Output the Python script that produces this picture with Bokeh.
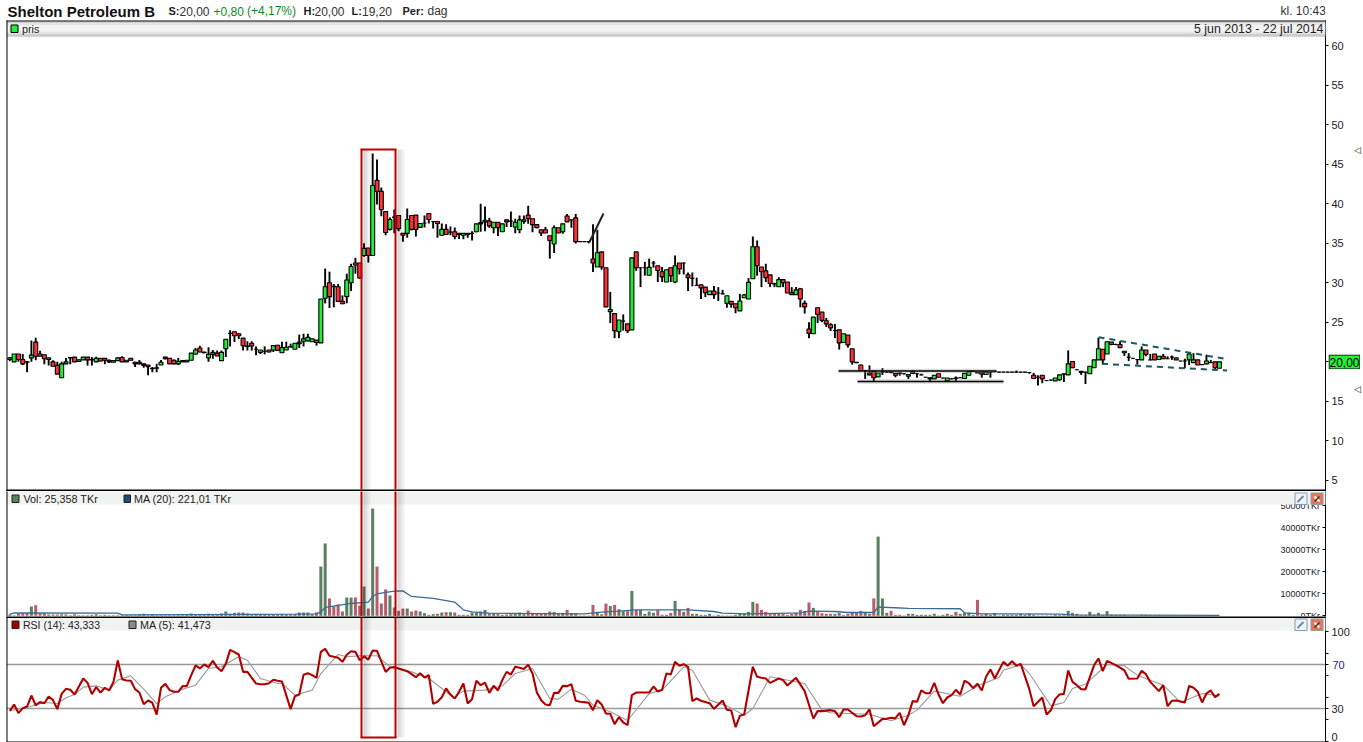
from bokeh.plotting import figure
from bokeh.layouts import column
from bokeh.models import Range1d, FixedTicker
from bokeh.core.properties import value
from bokeh.embed import file_html
from bokeh.resources import INLINE

opens = [20.3,20.0,21.0,20.3,20.0,20.5,22.5,21.0,20.9,20.3,
 20.0,19.55,18.0,19.75,20.55,20.6,20.05,20.25,20.6,20.3,
 20.0,20.45,20.45,20.2,19.95,20.15,20.55,20.0,20.45,19.95,
 19.95,19.75,19.6,19.2,19.25,19.6,20.6,20.45,20.2,19.75,
 20.0,20.0,20.2,21.0,21.75,21.2,20.5,20.95,21.1,20.15,
 21.65,23.6,23.8,23.55,23.0,22.0,22.35,21.6,21.2,21.35,
 21.5,21.5,22.1,21.15,21.5,21.95,21.6,22.3,22.6,22.65,
 22.55,22.75,22.4,28.05,30.0,29.55,29.5,27.65,28.25,30.0,
 32.5,32.5,33.45,34.4,33.45,42.95,41.55,39.0,36.75,38.3,
 38.5,36.25,36.25,38.5,38.55,37.0,37.55,38.75,37.75,37.75,
 36.0,36.75,36.4,36.45,36.1,36.0,36.25,36.25,36.45,37.45,
 37.7,37.8,36.95,37.65,36.45,37.95,37.8,37.05,36.7,37.75,
 38.55,38.1,37.35,36.7,36.7,35.95,34.9,36.95,36.45,38.45,
 37.95,38.2,35.2,35.2,35.2,33.0,32.0,33.9,31.9,26.35,
 26.1,23.8,25.15,24.8,24.05,33.9,31.9,31.9,30.95,32.5,
 32.15,31.4,30.1,31.9,30.1,32.5,32.5,31.0,30.55,29.65,
 29.75,29.45,28.5,28.95,28.7,28.6,27.4,27.65,27.35,26.45,
 28.1,27.95,30.5,34.55,32.0,31.5,31.0,29.9,29.5,30.4,
 30.1,28.75,28.5,29.25,27.4,24.15,23.55,26.85,26.3,25.2,
 24.7,23.95,24.05,22.45,23.4,21.65,19.95,19.6,18.9,18.6,
 18.8,18.1,18.7,18.7,18.7,18.55,18.6,18.5,18.2,18.55,
 18.5,18.35,18.05,18.0,17.85,18.5,17.95,17.6,17.85,17.95,
 18.0,17.9,18.3,18.8,18.65,18.7,18.4,18.65,18.75,18.7,
 18.7,18.7,18.7,18.7,18.7,18.7,18.65,18.3,18.05,18.3,
 17.65,17.7,17.6,17.75,18.5,18.35,20.05,19.0,18.8,18.7,
 18.5,19.25,20.25,21.6,21.0,22.5,22.2,22.2,21.15,20.6,
 20.45,20.3,20.25,21.5,20.25,21.0,20.3,20.7,20.4,20.6,
 20.25,20.1,20.1,20.25,19.9,20.25,19.65,19.75,19.9,20.0,19.2]

closes = [20.5,21.0,20.3,19.75,19.95,20.85,20.7,20.7,20.4,20.5,
 19.45,18.45,19.75,20.0,20.5,20.0,20.25,20.6,20.25,20.25,
 20.45,20.1,20.2,20.0,20.15,20.5,20.0,20.2,20.2,19.75,
 19.75,19.55,19.4,19.15,19.2,19.95,20.4,19.75,19.75,20.05,
 20.15,20.2,21.1,21.5,21.25,21.15,20.95,21.2,20.75,21.2,
 22.85,23.6,23.3,23.3,22.05,21.95,22.0,21.6,21.5,21.35,
 21.25,22.05,21.45,21.8,21.85,21.9,22.35,22.5,22.9,23.1,
 22.9,22.45,27.95,29.5,28.25,29.5,27.65,27.35,30.35,32.05,
 32.25,30.6,34.35,33.45,42.3,41.55,39.25,36.35,38.0,38.25,
 36.85,36.0,38.0,36.75,36.75,37.5,37.55,38.0,37.75,37.5,
 36.75,36.1,36.4,35.85,36.25,36.25,36.1,36.25,37.45,37.6,
 37.9,37.2,37.65,36.95,37.45,37.7,37.8,37.65,37.95,37.95,
 38.1,37.35,36.95,36.3,36.3,35.35,36.95,36.3,37.45,37.7,
 37.95,35.2,35.2,35.2,35.2,32.5,33.8,32.0,26.95,26.6,
 23.95,25.3,25.15,23.95,33.15,31.9,31.9,31.9,31.95,32.5,
 31.55,30.75,31.65,30.9,32.15,31.75,32.5,30.65,30.55,29.65,
 29.35,28.75,28.95,28.5,28.7,28.6,28.35,27.3,26.85,27.7,
 28.45,30.05,34.55,32.15,31.4,30.65,29.9,29.85,30.4,30.0,
 28.7,28.5,29.1,27.95,26.95,23.6,25.65,26.0,25.25,24.8,
 24.3,23.95,22.4,23.55,22.15,20.0,19.9,18.9,18.9,18.35,
 18.0,18.6,18.7,18.7,18.65,18.3,18.55,18.5,18.4,18.75,
 18.5,18.35,18.05,17.85,18.3,18.05,17.95,17.95,17.85,17.9,
 18.0,18.55,18.75,18.8,18.6,18.45,18.7,18.65,18.75,18.7,
 18.7,18.7,18.7,18.7,18.7,18.7,18.65,17.9,18.05,17.85,
 17.65,17.7,17.95,18.35,18.45,19.75,19.25,19.0,18.65,18.7,
 19.45,20.25,21.65,20.25,22.55,22.2,22.2,21.8,21.35,20.6,
 20.45,20.3,21.5,20.95,20.25,20.25,20.7,20.4,20.4,20.6,
 20.5,20.1,20.1,21.0,20.25,19.6,19.65,20.1,19.9,19.25,20.0]

highs = [20.6,21.0,21.0,21.0,20.1,22.7,23.05,21.4,20.9,20.5,
 20.2,20.0,20.0,20.5,20.6,20.6,20.3,20.6,20.6,20.6,
 20.65,20.5,20.5,20.3,20.2,20.55,20.7,20.2,20.5,20.0,
 20.25,19.8,19.6,19.35,19.75,20.25,20.65,20.5,20.3,20.5,
 20.2,20.25,21.1,21.75,22.05,21.3,21.85,21.5,21.45,21.45,
 22.85,24.0,23.8,23.6,23.0,22.6,22.6,21.95,21.5,21.95,
 21.5,22.05,22.15,22.55,22.55,22.3,22.35,23.45,23.55,23.55,
 22.9,22.75,27.95,31.8,31.4,29.85,29.85,28.4,31.15,32.4,
 33.15,32.5,35.0,34.4,46.35,45.6,42.05,39.0,38.25,39.25,
 38.5,36.3,39.4,38.5,38.55,37.5,38.5,38.8,37.8,37.8,
 37.5,37.4,37.1,37.0,36.3,36.3,36.3,36.5,37.45,40.0,
 39.65,38.2,37.65,37.65,37.45,38.0,39.0,38.1,38.5,38.5,
 39.75,38.1,37.4,36.75,37.05,35.95,37.25,36.95,37.45,38.7,
 38.0,38.7,35.25,35.25,35.25,37.4,36.7,33.9,31.9,28.85,
 26.1,25.3,26.0,24.8,33.15,33.9,31.95,32.65,33.05,32.75,
 32.15,32.0,31.65,31.9,33.45,32.5,32.55,31.3,31.3,30.65,
 29.75,29.45,28.95,29.6,29.45,29.1,28.35,27.65,27.35,28.6,
 28.6,30.6,35.85,35.35,32.0,32.4,31.0,30.0,30.7,30.4,
 30.1,29.45,29.45,29.35,27.75,25.0,25.65,26.85,26.3,25.55,
 24.9,24.8,24.05,23.55,23.4,21.65,20.0,19.65,18.95,19.55,
 18.8,18.6,19.2,18.85,18.8,18.6,18.65,18.55,18.45,18.9,
 18.6,18.5,18.1,18.0,18.35,18.5,18.0,17.95,17.9,18.15,
 18.05,18.55,18.8,18.85,18.7,18.75,18.75,18.7,18.8,18.75,
 18.75,18.75,18.75,18.9,18.75,18.75,18.7,18.6,18.3,18.3,
 17.7,17.75,17.95,18.35,18.5,21.45,20.05,19.05,18.85,18.75,
 19.45,20.25,23.05,21.6,22.55,22.5,22.3,22.6,21.35,21.1,
 20.5,20.35,21.95,21.5,21.0,21.0,20.75,21.0,20.7,20.8,
 20.5,20.15,20.4,21.25,21.1,20.25,19.7,20.9,20.25,20.0,20.0]

lows = [20.1,20.0,20.0,19.6,18.7,20.0,20.2,20.7,19.7,19.55,
 19.4,18.45,18.0,19.75,19.7,20.0,20.0,20.25,19.55,19.55,
 20.0,20.05,19.7,19.85,19.95,20.1,20.0,20.0,20.2,19.35,
 19.7,19.25,18.3,18.7,18.7,19.6,20.3,19.75,19.7,19.6,
 20.0,20.0,20.2,20.9,21.2,21.1,20.0,20.4,20.75,20.15,
 20.6,21.95,22.5,22.9,21.45,21.45,21.45,20.85,21.0,20.95,
 21.2,21.25,21.45,21.15,21.5,21.8,21.6,21.75,21.95,22.6,
 22.55,22.05,22.4,27.4,26.8,26.9,27.65,27.3,27.4,28.95,
 31.15,30.5,33.3,32.55,33.45,39.9,38.4,36.0,36.6,36.25,
 36.5,35.2,35.7,36.6,35.85,37.0,37.0,37.5,36.85,35.7,
 36.0,36.1,36.0,35.5,35.55,35.5,35.7,35.35,36.4,36.45,
 36.5,36.95,36.25,35.9,36.45,37.05,37.05,36.25,36.25,37.45,
 37.45,36.4,36.9,35.9,36.3,33.05,33.75,36.3,36.2,37.7,
 36.95,34.95,35.2,35.2,35.0,31.35,32.0,31.65,26.95,24.9,
 23.0,23.0,23.95,23.65,24.05,31.5,29.45,30.9,30.95,31.9,
 30.1,30.1,30.1,30.1,29.95,31.05,31.05,28.95,29.55,29.6,
 27.95,28.2,28.5,27.95,27.7,28.55,26.85,26.85,26.15,26.45,
 28.1,27.95,30.5,30.9,29.45,30.1,29.45,29.45,29.5,29.45,
 28.7,28.5,28.5,26.9,26.1,23.0,23.55,24.9,25.0,24.4,
 23.9,23.0,21.55,22.45,21.8,19.65,19.85,18.9,17.85,18.3,
 17.45,18.1,18.35,18.6,18.55,18.05,18.25,18.4,17.85,18.5,
 18.0,18.3,18.0,17.55,17.85,18.05,17.9,17.6,17.8,17.5,
 17.95,17.9,18.3,18.75,18.6,18.0,18.4,18.0,18.7,18.65,
 18.65,18.65,18.65,18.65,18.65,18.65,18.5,17.9,17.0,17.3,
 17.55,17.6,17.6,17.6,17.45,18.35,19.2,18.95,18.35,17.2,
 18.5,19.25,20.25,19.65,21.0,22.1,22.1,21.8,20.75,20.1,
 20.4,19.65,20.25,20.7,20.2,20.25,20.3,20.35,20.35,20.25,
 20.25,20.05,19.2,19.6,19.9,19.6,19.6,19.7,19.85,19.0,19.2]

volume = [600,300,1200,1200,1200,4200,4850,1200,1200,600,
 600,600,750,600,300,750,300,300,300,450,
 750,300,450,300,300,300,300,300,300,300,
 600,900,300,450,300,300,300,300,300,300,
 300,450,1050,450,450,450,900,450,450,1050,
 1950,900,1350,1500,1500,1050,600,900,600,600,
 600,600,600,900,600,600,600,1500,1500,1500,
 750,1500,22400,32900,7900,4250,5150,1950,8300,8300,
 8300,4700,13300,3300,48800,22400,5600,12000,9250,3800,
 2250,3300,3300,1950,2400,1950,1200,450,750,900,
 1500,1650,1650,1500,450,450,450,1500,1500,1950,
 2700,1200,1200,900,450,600,750,900,1500,750,
 2400,1350,1050,1050,1200,1950,1800,1050,1350,2700,
 1200,1200,150,150,150,4950,1800,750,5550,4500,
 4950,3000,2100,2100,11300,2700,2700,900,1950,1350,
 2550,450,450,1350,6800,2700,1800,3600,900,900,
 450,450,900,150,450,150,150,150,450,900,
 900,1800,6350,5600,2700,1800,900,900,900,900,
 450,900,1350,2700,2250,6050,3600,1800,1200,900,
 900,900,1350,300,900,1800,1350,2250,1800,900,
 7900,36000,7900,1350,2250,450,450,150,900,900,
 450,450,450,450,900,150,450,900,450,1800,
 900,1350,1350,450,7250,450,900,450,1350,150,
 450,450,450,450,750,450,900,450,150,150,
 150,150,450,300,300,2250,1350,900,300,300,
 1800,450,1350,450,2100,600,450,450,450,150,
 150,150,450,450,300,300,300,300,150,150,
 150,150,150,150,150,150,150,150,300,150,25]

vol_ma_i = [0,1,25,26,66,71,72,73,79,83,84,85,87,89,91,93,98,103,104,105,107,111,133,137,141,145,154,157,163,165,171,183,185,191,194,200,201,205,208,220,221,225,243,246,280]
vol_ma_v = [600,1350,1200,450,750,900,1650,3800,5600,6200,8800,10000,10600,11200,11350,8800,7900,6200,4550,2700,1800,1200,900,1650,2100,2700,2700,2700,1950,1200,900,1350,2100,1950,1500,1500,3950,3650,3350,3200,1350,900,750,450,221]

rsi_i = [*range(0,16),*range(17,56),*range(57,64),*range(65,86),*range(87,91),92,*range(94,105),*range(105,146),
 *range(148,161),162,163,*range(165,171),*range(172,177),*range(178,181),182,184,*range(186,189),*range(190,195),
 *range(196,201),*range(202,209),*range(209,229),*range(230,235),236,237,*range(239,250),*range(251,255),256,258,259,
 *range(261,265),*range(266,271),*range(272,281)]
rsi_v = [27.9,33.6,25.8,30.3,31.8,41.8,33.0,35.8,34.8,40.9,37.6,29.4,43.3,47.9,47.0,42.7,
 57.3,53.3,43.0,49.4,44.5,48.8,46.4,54.2,73.6,56.7,55.5,55.2,47.6,44.5,33.9,37.3,35.2,24.5,48.8,52.4,46.7,45.2,45.2,50.3,50.6,60.3,69.1,66.4,70,67.6,73.3,67.3,63.9,70.6,83.3,81.2,79.1,63.3,63.3,
 52.7,52.1,52.1,53,56.1,55.2,54.5,
 29.4,41.2,42.7,60.6,62.1,60.3,57.9,81.5,84.2,77.9,77,76.1,72.4,78.8,82.1,81.5,73.9,77.3,74.5,82.7,82.4,
 63.3,67,67.6,66.4,
 63.9,
 58.5,62.1,58.2,60.3,34.2,36.1,40.3,48.2,42.7,39.1,45.2,
 52.7,34.5,38.5,55.2,51.2,53.6,44.2,50.6,46.4,55.8,63.3,60.9,67.9,67,65.8,69.7,61.8,44.5,37.6,33.6,33.0,44.2,44.2,50.6,50.3,52.1,37,36.1,35.8,35.2,28.5,37.6,33.6,25.5,25.2,15.8,22.1,17.3,14.8,42.1,44.5,
 44.5,50,45.5,47,61.8,60.9,72.4,68.8,70.3,67.9,36.7,39.1,37,
 34.8,29.7,
 37.3,28.8,28.2,13,23.3,24.5,
 67.9,58.8,57.9,57.3,53.3,
 57.3,55.8,50.9,
 57.9,45.8,
 20.9,27.6,27.6,
 28.5,27.6,22.1,29.1,29.1,
 23,22.7,23.9,29.1,13.9,
 20.6,20.6,21.5,21.2,26.1,14.8,23.9,
 36.7,36.1,46.4,43.9,43.9,53.3,42.7,34.8,40,42.1,47,42.7,55.2,53,48.5,52.4,46.4,59.1,65.5,57.3,
 72.4,68.8,73,68.8,70.6,
 47.6,32.1,
 40,24.5,28.5,38.5,42.7,43.3,64.5,54.2,51.2,47.6,47.3,
 69.4,75.5,63.9,73.3,
 69.4,64.8,57,
 57.3,64.2,61.2,54.2,
 45.8,51.2,32.1,37,37.3,
 35.5,50.6,48.8,45.2,35.5,43.6,46.4,40.3,43.3]

rsi_ma_i = [0,4,8,11,13,15,17,20,23,25,28,31,34,36,40,43,46,49,53,55,58,62,63,66,70,72,76,78,81,85,88,93,97,103,104,
 105,110,114,117,121,125,127,130,133,135,139,143,148,151,156,158,162,166,170,172,176,184,188,190,194,199,204,208,
 210,214,220,224,229,230,234,236,241,244,246,249,254,258,261,267,271,276,280]
rsi_ma_v = [27.9,30.9,35.5,34.5,39.7,42.7,49.4,50.6,46.7,55.8,59.7,47.6,34.5,40.6,47.6,51.2,66.4,67.9,77,73.9,57.3,52.7,52.7,42.1,46.7,61.8,79.1,77,77.9,77.9,67.9,63.3,57.3,39.1,43.6,
 45.8,46.7,50.6,61.8,66.4,39.1,38.5,47.6,42.1,33,27,19.1,43.6,46.7,67.9,64.8,37.6,32.4,23.9,30,58.8,52.7,28.5,26.1,25.5,24.8,18.8,23.9,
 28.5,45.8,41.2,50.6,58.2,64.8,70,61.8,32.4,35.5,48.2,52.1,70,68.8,60.3,51.2,35.5,43.6,41.473]

price_ticks = [5,10,15,20,25,30,35,40,45,50,55,60]
vol_ticks = [0,10000,20000,30000,40000,50000]
vol_labels = ["0TKr","10000TKr","20000TKr","30000TKr","40000TKr","50000TKr"]
rsi_ticks = [0,30,70,100]
rsi_minor = [20,40,60,80]

FONT = value("Liberation Sans")
GREEN, RED = "#22ee38", "#ff3035"
VGREEN, VRED = "#5b7f5f", "#b65c6b"
X0, X1 = 6, 1325
xr = ((X0 - 9.3) / 4.32, (X1 - 9.3) / 4.32)
idx = list(range(len(closes)))
up = [c >= o for o, c in zip(opens, closes)]


def pane(h, y_top, y_bot, vtop, vbot):
    p = figure(width=1363, height=h, output_backend="svg", toolbar_location=None,
               x_range=Range1d(*xr), y_range=Range1d(vbot, vtop),
               x_axis_location=None, y_axis_location="right",
               min_border_left=X0, min_border_right=1363 - X1, min_border_top=0, min_border_bottom=0,
               outline_line_color=None, background_fill_color="white", border_fill_color="white")
    p.grid.visible = False
    p.extra_x_ranges["px"] = Range1d(X0, X1)
    p.extra_y_ranges["px"] = Range1d(y_bot, y_top)
    a = p.yaxis[0]
    a.axis_line_color = "black"
    a.major_tick_line_color = "black"
    a.minor_tick_line_color = "black"
    a.major_label_text_font = "Liberation Sans"
    a.major_label_text_font_size = "11px"
    a.major_label_text_color = "#222222"
    a.major_tick_in = 0
    a.major_tick_out = 3
    a.minor_tick_in = 0
    a.minor_tick_out = 0
    a.major_label_standoff = 3
    return p


def box(p, x0, x1, y0, y1, color, line=None, alpha=1.0):
    p.quad(left=[x0], right=[x1], top=[y0], bottom=[y1], fill_color=color, fill_alpha=alpha,
           line_color=line, level="overlay", x_range_name="px", y_range_name="px")


def txt(p, x, y, s, size="10.8px", color="#222222", align="left", style="normal"):
    p.text(x=[x], y=[y], text=[s], text_font=FONT, text_font_size=size, text_color=color,
           text_align=align, text_baseline="middle", text_font_style=style,
           level="overlay", x_range_name="px", y_range_name="px")


def buttons(p, y):
    box(p, 1294.5, 1306.5, y, y + 11.5, "#eef3fa", "#7f9db9")
    p.segment([1297], [y + 9], [1303], [y + 3], line_color="#778899", line_width=2,
              level="overlay", x_range_name="px", y_range_name="px")
    box(p, 1310.5, 1322.5, y, y + 11.5, "#e2775c", "#9a9a9a")
    p.segment([1314], [y + 3.5], [1319], [y + 8.5], line_color="white", line_width=2,
              level="overlay", x_range_name="px", y_range_name="px")
    p.segment([1314], [y + 8.5], [1319], [y + 3.5], line_color="#333333", line_width=1.5,
              level="overlay", x_range_name="px", y_range_name="px")


def red_frame(p, y_top, y_bot, draw_top=False, draw_bottom=False):
    for x0 in (363, 397):
        for k, a in enumerate((0.16, 0.13, 0.09, 0.06, 0.03)):
            box(p, x0 + k * 1.5, x0 + (k + 1) * 1.5, y_top, y_bot, "black", alpha=a)
    p.segment([361, 395], [y_top, y_top], [361, 395], [y_bot, y_bot], line_color="#c00000", line_width=2,
              level="overlay", x_range_name="px", y_range_name="px")
    if draw_top:
        p.segment([360], [y_top], [396], [y_top], line_color="#c00000", line_width=2,
                  level="overlay", x_range_name="px", y_range_name="px")
    if draw_bottom:
        p.segment([360], [y_bot], [396], [y_bot], line_color="#c00000", line_width=2,
                  level="overlay", x_range_name="px", y_range_name="px")


def chip(x, y, w, h, s, size="11px", color="#222222", fill=None, font="Liberation Sans"):
    """Small figure floating over the axis area, for labels outside the plot frames."""
    c = figure(width=w, height=h, output_backend="svg", toolbar_location=None,
               x_range=Range1d(0, w), y_range=Range1d(h, 0),
               x_axis_location=None, y_axis_location=None, min_border=0, outline_line_color=None,
               background_fill_color=None, border_fill_color=None,
               styles={"position": "absolute", "left": f"{x}px", "top": f"{y}px"})
    c.grid.visible = False
    if fill:
        c.quad(left=[0.5], right=[w - 0.5], top=[0.5], bottom=[h - 0.5], fill_color=fill, line_color="black", line_width=1)
    c.text(x=[w / 2], y=[h / 2 + 0.5], text=[s], text_font=value(font), text_font_size=size, text_color=color,
           text_align="center", text_baseline="middle")
    return c


# ---------------- header
head = figure(width=1363, height=20, output_backend="svg", toolbar_location=None,
              x_range=Range1d(X0, X1), y_range=Range1d(20, 0),
              x_axis_location=None, y_axis_location=None,
              min_border_left=X0, min_border_right=1363 - X1, min_border_top=0, min_border_bottom=0, outline_line_color=None)
head.grid.visible = False
for x, s, size, col, st in [
    (7, "Shelton Petroleum B", "15px", "#111111", "bold"),
    (168, "S:", "11px", "#222222", "bold"),
    (179, "20,00", "12px", "#333333", "normal"),
    (213, "+0,80", "12px", "#0b8a1e", "normal"),
    (246.5, "(+4,17%)", "12px", "#0b8a1e", "normal"),
    (303, "H:", "11px", "#222222", "bold"),
    (314, "20,00", "12px", "#333333", "normal"),
    (351, "L:", "11px", "#222222", "bold"),
    (361.5, "19,20", "12px", "#333333", "normal"),
    (402, "Per:", "11px", "#222222", "bold"),
    (427, "dag", "12px", "#333333", "normal"),
    (1280, "kl. 10:43", "12px", "#333333", "normal"),
]:
    head.text(x=[x], y=[10.5], text=[s], text_font=FONT, text_font_size=size, text_color=col,
              text_baseline="middle", text_font_style=st)

# ---------------- price
Y = lambda y: 60 - (y - 45) / 7.909
pp = pane(471, 20, 491, Y(20), Y(491))
pp.yaxis[0].ticker = FixedTicker(ticks=price_ticks)
pp.segment(idx, highs, idx, lows, line_color="black", line_width=1.9)
pp.vbar(x=idx, top=[max(a, b) for a, b in zip(opens, closes)], bottom=[min(a, b) for a, b in zip(opens, closes)],
        width=0.92, fill_color=[GREEN if u else RED for u in up], line_color="black", line_width=1.1)

# hand drawn trend lines
for x0, x1, y in [(838, 996, 370.5), (857, 1003, 381)]:
    pp.line([x0, x1], [y, y], line_color="#888888", line_alpha=0.3, line_width=4.5, x_range_name="px", y_range_name="px")
    pp.line([x0, x1], [y, y], line_color="black", line_width=1.5, x_range_name="px", y_range_name="px")
pp.line([589, 603], [241.5, 213], line_color="#222222", line_width=2, x_range_name="px", y_range_name="px")
pp.line([1098, 1223], [336.7, 358], line_color="#1b5a5c", line_width=2, line_dash="6 5", x_range_name="px", y_range_name="px")
pp.line([1101.5, 1226.5], [363.3, 370], line_color="#1b5a5c", line_width=2, line_dash="6 5", x_range_name="px", y_range_name="px")

for y0, y1, c in [(21, 23, "#cfcfcf"), (23, 25, "#e6e6e6"), (25, 31, "#f3f3f3"), (31, 33, "#e6e6e6"), (33, 35, "#d0d0d0"), (35, 36, "#b0b0b0")]:
    box(pp, X0, X1, y0, y1, c)
box(pp, 10.5, 17.5, 24.5, 32, GREEN, "black")
txt(pp, 21.5, 28.5, "pris")
txt(pp, 1323, 28.5, "5 jun 2013 - 22 jul 2014", size="12.4px", align="right")
box(pp, X0, X0 + 1, 20, 491, "black")
box(pp, X0, X1, 20, 21, "black")
box(pp, X0, X1, 489, 491, "black")
red_frame(pp, 149, 489, draw_top=True)

# ---------------- volume
V = lambda y: (615.3 - y) / 22 * 10000
vp = pane(125, 491, 616, V(491), V(616))
a = vp.yaxis[0]
a.ticker = FixedTicker(ticks=vol_ticks)
a.major_label_text_color = None
a.major_tick_in = 3
a.major_tick_out = 0
vp.vbar(x=idx, top=volume, bottom=0, width=0.7, fill_color=[VGREEN if u else VRED for u in up], line_color=None)
vp.line(vol_ma_i, vol_ma_v, line_color="#3a6b99", line_width=1.3)
vp.text(x=[1319.5] * len(vol_ticks), y=vol_ticks, text=vol_labels, text_font=FONT, text_font_size="9px",
        text_color="#222222", text_align="right", text_baseline="middle", x_range_name="px")
box(vp, X0, X1, 491, 504, "#f1f3f1")
box(vp, 11.5, 18.5, 494.5, 502, VGREEN, "#222222")
txt(vp, 23, 498, "Vol: 25,358 TKr")
box(vp, 123.5, 130, 494.5, 502, "#1f4e79", "#222222")
txt(vp, 133.5, 498, "MA (20): 221,01 TKr")
buttons(vp, 492.5)
box(vp, X0, X0 + 1, 491, 616, "black")
red_frame(vp, 491, 616)

# ---------------- RSI
R = lambda y: (741 - y) / 1.1
rp = pane(126, 616, 742, R(616), R(742))
a = rp.yaxis[0]
a.ticker = FixedTicker(ticks=rsi_ticks, minor_ticks=rsi_minor)
a.minor_tick_out = 3
a.major_label_overrides = {70: " "}
for lvl in (70, 30):
    rp.line(xr, [lvl, lvl], line_color="#999999", line_width=1.3)
rp.line(rsi_ma_i, rsi_ma_v, line_color="#999999", line_width=1.1)
rp.line(rsi_i, rsi_v, line_color="#b00000", line_width=2.1)
box(rp, X0, X1, 617, 630, "#f1f3f1")
box(rp, 11.5, 18.5, 620.5, 628, "#a50000", "#222222")
txt(rp, 22.5, 624, "RSI (14): 43,333", size="10.5px")
box(rp, 128.5, 135.5, 620.5, 628, "#8c8c8c", "#222222")
txt(rp, 139.5, 624, "MA (5): 41,473")
buttons(rp, 618.5)
box(rp, X0, X0 + 1, 616, 742, "black")
box(rp, X0, X1, 616, 617.5, "black")
box(rp, X0, X1, 741, 742, "black")
red_frame(rp, 617, 737, draw_bottom=True)

page = column(head, pp, vp, rp, spacing=0)
roots = [page,
         chip(1328, 354, 32, 15, "20,00", size="12px", color="black", fill=GREEN),
         chip(1330, 657, 16, 14, "70", color="#1a1a8c"),
         chip(1351, 142, 12, 14, "◁", size="9px", color="#111111", font="DejaVu Sans"),
         chip(1351, 381, 12, 14, "◁", size="9px", color="#111111", font="DejaVu Sans")]
open("out.html", "w").write(file_html(roots, INLINE))
